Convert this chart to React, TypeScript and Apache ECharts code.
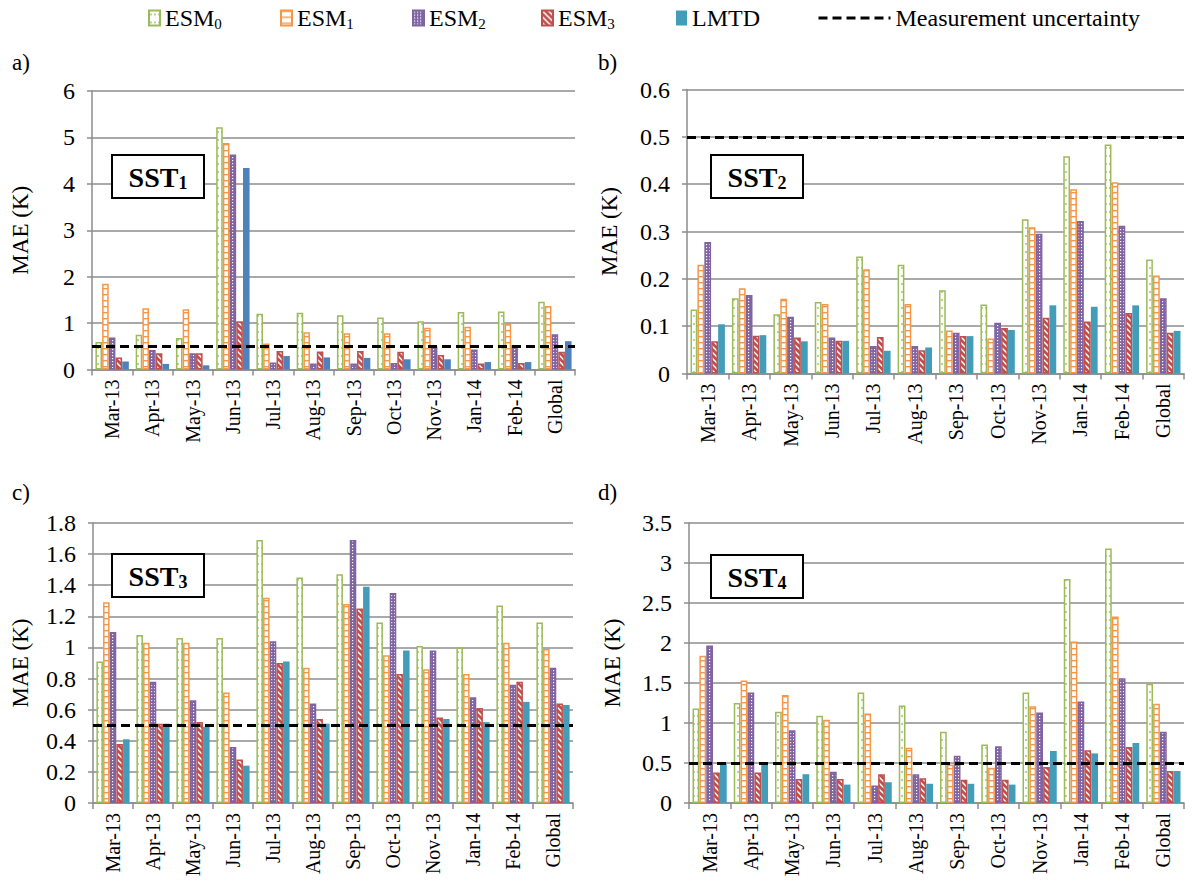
import React, { useEffect, useRef } from "react";
import * as echarts from "echarts";

const categories = ["Mar-13", "Apr-13", "May-13", "Jun-13", "Jul-13", "Aug-13", "Sep-13", "Oct-13", "Nov-13", "Jan-14", "Feb-14", "Global"];
const seriesNames = ["ESM0", "ESM1", "ESM2", "ESM3", "LMTD"];
const uncertaintyName = "Measurement uncertainty";
const uncertainty = 0.5;

// SST1 (panel a)
const sst1Esm0 = [0.59, 0.75, 0.68, 5.22, 1.2, 1.22, 1.17, 1.12, 1.04, 1.24, 1.25, 1.46];
const sst1Esm1 = [1.85, 1.32, 1.3, 4.88, 0.56, 0.8, 0.78, 0.78, 0.9, 0.92, 0.98, 1.37];
const sst1Esm2 = [0.69, 0.42, 0.35, 4.63, 0.15, 0.13, 0.13, 0.14, 0.49, 0.43, 0.52, 0.76];
const sst1Esm3 = [0.26, 0.35, 0.35, 1.04, 0.4, 0.39, 0.4, 0.38, 0.31, 0.13, 0.14, 0.38];
const sst1Lmtd = [0.17, 0.12, 0.09, 4.34, 0.29, 0.26, 0.25, 0.22, 0.22, 0.16, 0.16, 0.61];

// SST2 (panel b)
const sst2Esm0 = [0.135, 0.159, 0.125, 0.151, 0.247, 0.23, 0.176, 0.146, 0.326, 0.459, 0.484, 0.241];
const sst2Esm1 = [0.23, 0.18, 0.158, 0.147, 0.22, 0.147, 0.091, 0.074, 0.309, 0.389, 0.404, 0.207];
const sst2Esm2 = [0.278, 0.166, 0.12, 0.076, 0.058, 0.058, 0.086, 0.107, 0.295, 0.322, 0.312, 0.159];
const sst2Esm3 = [0.068, 0.08, 0.076, 0.069, 0.077, 0.049, 0.079, 0.096, 0.118, 0.11, 0.128, 0.086];
const sst2Lmtd = [0.104, 0.081, 0.068, 0.069, 0.048, 0.055, 0.079, 0.092, 0.144, 0.141, 0.144, 0.09];

// SST3 (panel c)
const sst3Esm0 = [0.91, 1.08, 1.06, 1.06, 1.69, 1.45, 1.47, 1.16, 1.01, 1.0, 1.27, 1.16];
const sst3Esm1 = [1.29, 1.03, 1.03, 0.71, 1.32, 0.87, 1.28, 0.95, 0.86, 0.83, 1.03, 0.99];
const sst3Esm2 = [1.1, 0.78, 0.66, 0.36, 1.04, 0.64, 1.69, 1.35, 0.98, 0.68, 0.76, 0.87];
const sst3Esm3 = [0.38, 0.51, 0.52, 0.28, 0.9, 0.54, 1.25, 0.83, 0.55, 0.61, 0.78, 0.64];
const sst3Lmtd = [0.41, 0.51, 0.49, 0.24, 0.91, 0.51, 1.39, 0.98, 0.54, 0.52, 0.65, 0.63];

// SST4 (panel d)
const sst4Esm0 = [1.18, 1.25, 1.14, 1.09, 1.38, 1.22, 0.89, 0.73, 1.38, 2.8, 3.18, 1.49];
const sst4Esm1 = [1.84, 1.53, 1.35, 1.04, 1.12, 0.69, 0.48, 0.44, 1.21, 2.02, 2.33, 1.24];
const sst4Esm2 = [1.97, 1.38, 0.91, 0.39, 0.22, 0.36, 0.59, 0.71, 1.13, 1.27, 1.56, 0.89];
const sst4Esm3 = [0.38, 0.38, 0.3, 0.3, 0.36, 0.31, 0.29, 0.29, 0.45, 0.66, 0.7, 0.4];
const sst4Lmtd = [0.49, 0.49, 0.36, 0.23, 0.26, 0.24, 0.24, 0.23, 0.65, 0.62, 0.75, 0.4];

const FONT = "Liberation Serif";
const GREEN = "#9BBB59";
const ORANGE = "#F79646";
const PURPLE = "#8064A2";
const RED = "#C0504D";
const TEAL = "#449DB8";
const BLUE = "#4F81BD";
const GRID_GRAY = "#8C8C8C";

const pattern = (svg: string, w: number, h: number) => ({
  image: "data:image/svg+xml;charset=utf-8," + encodeURIComponent(svg),
  repeat: "repeat",
  imageWidth: w,
  imageHeight: h,
});

const svgHead = (w: number, h: number) => `<svg xmlns='http://www.w3.org/2000/svg' width='${w}' height='${h}'>`;

const greenFill = pattern(
  svgHead(4, 8) + `<rect width='4' height='8' fill='#fff'/><circle cx='2' cy='4' r='0.9' fill='${GREEN}'/></svg>`,
  4,
  8
);
const orangeFill = pattern(
  svgHead(6, 6) + `<rect width='6' height='6' fill='#fff'/><rect width='6' height='1.4' fill='${ORANGE}'/></svg>`,
  6,
  6
);
const purpleFill = pattern(
  svgHead(3, 3) + `<rect width='3' height='3' fill='${PURPLE}'/><rect x='1' y='1' width='1.2' height='1.2' fill='#fff'/></svg>`,
  3,
  3
);
const redFill = pattern(
  svgHead(6, 6) +
    `<rect width='6' height='6' fill='${RED}'/><path d='M-1,-1 L7,7 M-1,5 L1,7 M5,-1 L7,1' stroke='#fff' stroke-width='1.5'/></svg>`,
  6,
  6
);

const styles = [
  { color: greenFill, borderColor: GREEN, borderWidth: 1.5 },
  { color: orangeFill, borderColor: ORANGE, borderWidth: 1.5 },
  { color: purpleFill, borderColor: PURPLE, borderWidth: 1.5 },
  { color: redFill, borderColor: RED, borderWidth: 1.5 },
  { color: TEAL, borderWidth: 0 },
];

const panels = [
  {
    letter: "a)",
    sub: "1",
    data: [sst1Esm0, sst1Esm1, sst1Esm2, sst1Esm3, sst1Lmtd],
    max: 6,
    interval: 1,
    grid: { left: 92, top: 91, width: 483, height: 278.5 },
    lmtdColor: BLUE,
    nameGap: 60,
    letterPos: [12, 51],
    boxPos: [112, 155],
  },
  {
    letter: "b)",
    sub: "2",
    data: [sst2Esm0, sst2Esm1, sst2Esm2, sst2Esm3, sst2Lmtd],
    max: 0.6,
    interval: 0.1,
    grid: { left: 687, top: 89.5, width: 497, height: 284 },
    lmtdColor: TEAL,
    nameGap: 66,
    letterPos: [598, 51],
    boxPos: [711, 155],
  },
  {
    letter: "c)",
    sub: "3",
    data: [sst3Esm0, sst3Esm1, sst3Esm2, sst3Esm3, sst3Lmtd],
    max: 1.8,
    interval: 0.2,
    grid: { left: 93, top: 523, width: 480, height: 280 },
    lmtdColor: TEAL,
    nameGap: 61,
    letterPos: [12, 481],
    boxPos: [112, 554],
  },
  {
    letter: "d)",
    sub: "4",
    data: [sst4Esm0, sst4Esm1, sst4Esm2, sst4Esm3, sst4Lmtd],
    max: 3.5,
    interval: 0.5,
    grid: { left: 689, top: 523, width: 495, height: 280 },
    lmtdColor: TEAL,
    nameGap: 65,
    letterPos: [598, 481],
    boxPos: [711, 555],
  },
];

const legendLeft = [148, 280, 412, 541, 676];

function buildOption() {
  const grids: any[] = [];
  const xAxes: any[] = [];
  const yAxes: any[] = [];
  const series: any[] = [];
  const graphics: any[] = [];

  panels.forEach((p, i) => {
    grids.push({ ...p.grid });
    xAxes.push({
      type: "category",
      gridIndex: i,
      data: categories,
      axisLine: { lineStyle: { color: GRID_GRAY, width: 1.5 } },
      axisTick: { show: true, alignWithLabel: false, length: 6, lineStyle: { color: GRID_GRAY, width: 1.5 } },
      axisLabel: { rotate: 90, interval: 0, margin: 10, color: "#000", fontFamily: FONT, fontSize: 20 },
    });
    yAxes.push({
      type: "value",
      gridIndex: i,
      min: 0,
      max: p.max,
      interval: p.interval,
      name: "MAE (K)",
      nameLocation: "middle",
      nameGap: p.nameGap,
      nameTextStyle: { color: "#000", fontFamily: FONT, fontSize: 23 },
      axisLine: { show: true, lineStyle: { color: GRID_GRAY, width: 1.5 } },
      axisTick: { show: true, length: 5, lineStyle: { color: GRID_GRAY, width: 1.5 } },
      splitLine: { show: true, lineStyle: { color: GRID_GRAY, width: 1.5 } },
      axisLabel: { color: "#000", fontFamily: FONT, fontSize: 24, margin: 17 },
    });
    p.data.forEach((vals, k) => {
      const st = k === 4 ? { color: p.lmtdColor, borderWidth: 0 } : styles[k];
      series.push({
        type: "bar",
        name: seriesNames[k],
        xAxisIndex: i,
        yAxisIndex: i,
        data: vals,
        barGap: "2%",
        barCategoryGap: "17%",
        itemStyle: st,
        emphasis: { disabled: true },
      });
    });
    series.push({
      type: "line",
      name: uncertaintyName,
      xAxisIndex: i,
      yAxisIndex: i,
      data: [],
      symbol: "none",
      showSymbol: false,
      itemStyle: { color: "#000" },
      lineStyle: { color: "#000", type: [9, 5], width: 3 },
      z: 5,
      markLine: {
        silent: true,
        symbol: ["none", "none"],
        label: { show: false },
        lineStyle: { color: "#000", type: [9, 5], width: 3 },
        data: [{ yAxis: uncertainty }],
      },
    });

    graphics.push({
      type: "text",
      x: p.letterPos[0],
      y: p.letterPos[1],
      style: { text: p.letter, fill: "#000", fontFamily: FONT, fontSize: 23 },
    });
    graphics.push({
      type: "group",
      x: p.boxPos[0],
      y: p.boxPos[1],
      z: 100,
      children: [
        {
          type: "rect",
          shape: { x: 0, y: 0, width: 92, height: 43 },
          style: { fill: "#fff", stroke: "#000", lineWidth: 2 },
          z: 100,
        },
        {
          type: "text",
          x: 46,
          y: 22,
          z: 101,
          style: {
            text: "SST{s|" + p.sub + "}",
            fill: "#000",
            fontFamily: FONT,
            fontSize: 28,
            fontWeight: "bold",
            align: "center",
            verticalAlign: "middle",
            lineHeight: 30,
            rich: {
              s: { fontFamily: FONT, fontSize: 18, fontWeight: "bold", fill: "#000", lineHeight: 14, verticalAlign: "bottom" },
            },
          },
        },
      ],
    });
  });

  const legendText = {
    color: "#000",
    fontFamily: FONT,
    fontSize: 24,
    lineHeight: 26,
    rich: {
      s: { fontFamily: FONT, fontSize: 15, lineHeight: 13, verticalAlign: "bottom", color: "#000" },
    },
  };
  const legends: any[] = seriesNames.map((n, k) => ({
    top: 5,
    left: legendLeft[k],
    padding: 0,
    icon: "rect",
    itemWidth: 11,
    itemHeight: 15,
    itemGap: 0,
    selectedMode: false,
    formatter: (name: string) => (name.startsWith("ESM") ? "ESM{s|" + name.slice(3) + "}" : name),
    textStyle: legendText,
    data: [k === 4 ? { name: n, itemStyle: { color: TEAL } } : { name: n }],
  }));
  legends.push({
    top: 5,
    left: 817,
    padding: 0,
    itemWidth: 72,
    itemHeight: 14,
    itemGap: 0,
    selectedMode: false,
    textStyle: legendText,
    itemStyle: { opacity: 0 },
    lineStyle: { color: "#000", type: [9, 5], width: 3 },
    data: [{ name: uncertaintyName }],
  });

  return {
    animation: false,
    backgroundColor: "#fff",
    textStyle: { fontFamily: FONT },
    grid: grids,
    xAxis: xAxes,
    yAxis: yAxes,
    legend: legends,
    series,
    graphic: graphics,
  };
}

export default function App() {
  const ref = useRef<HTMLDivElement>(null);
  useEffect(() => {
    document.body.style.margin = "0";
    if (!ref.current) return;
    const chart = echarts.init(ref.current, undefined, { renderer: "svg" });
    chart.setOption(buildOption() as any);
    return () => chart.dispose();
  }, []);
  return <div ref={ref} style={{ width: 1192, height: 896 }} />;
}
